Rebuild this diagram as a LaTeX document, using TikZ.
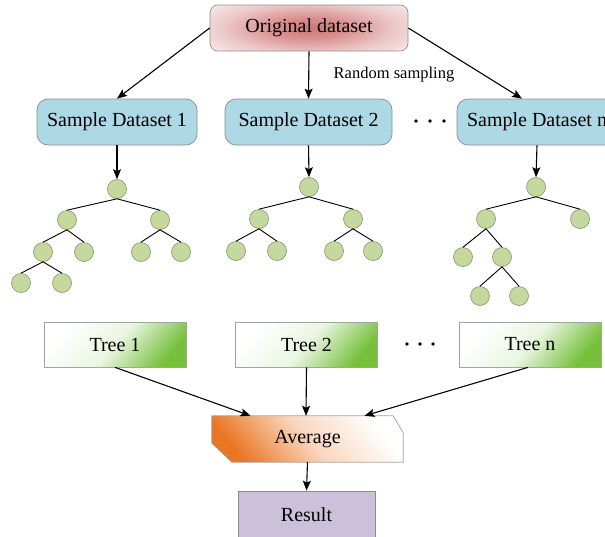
\documentclass[tikz,border=0pt]{standalone}
\usepackage{fontspec}
\setmainfont{Liberation Serif}
\usetikzlibrary{arrows.meta,calc}

\definecolor{leafgreen}{RGB}{197,217,158}
\definecolor{leafedge}{RGB}{128,148,108}
\definecolor{sampleblue}{RGB}{173,216,230}
\definecolor{treegreen}{RGB}{118,192,58}
\definecolor{avgorange}{RGB}{234,118,36}
\definecolor{resultlilac}{RGB}{204,193,218}
\definecolor{glowred}{RGB}{208,118,118}
\definecolor{boxgray}{RGB}{140,140,140}

% soft reddish glow behind the source label
\pgfdeclareradialshading{origglow}{\pgfpoint{0bp}{0bp}}{%
  color(0bp)=(glowred);
  color(8bp)=(glowred!80!white);
  color(18bp)=(glowred!40!white);
  color(28bp)=(glowred!12!white);
  color(36bp)=(white);
  color(50bp)=(white)}

\begin{document}
\begin{tikzpicture}[x=1pt,y=1pt,
  every node/.style={font=\fontsize{20}{24}\selectfont, inner sep=0pt},
  arr/.style={-{Stealth[length=10pt,width=8pt,inset=2pt]}, line width=1.1pt},
  leaf/.style={circle, minimum size=19pt, fill=leafgreen, draw=leafedge, line width=0.6pt},
  branch/.style={line width=0.9pt},
  origbox/.style={draw=boxgray, fill=white, rounded corners=8pt, minimum width=198pt,
    minimum height=46pt, line width=0.7pt,
    path picture={\shade[shading=origglow]
      (path picture bounding box.center) ellipse (120pt and 34pt);}},
  sample/.style={draw=boxgray, fill=sampleblue, rounded corners=11pt, minimum height=46pt, line width=0.7pt},
  treebox/.style={draw=boxgray!80, minimum width=142pt, minimum height=45pt, line width=0.7pt,
    top color=white, bottom color=treegreen, middle color=treegreen!15!white, shading angle=50},
  avgtext/.style={minimum width=191pt, minimum height=46pt},
  resultbox/.style={draw=boxgray, fill=resultlilac, minimum width=137pt, minimum height=48pt, line width=0.7pt},
  dotmark/.style={circle, fill=black, minimum size=3.6pt}
]
\clip (0,0) rectangle (605,-536);

% top: source data
\node[origbox] (orig) at (309,-28) {Original dataset};
\node[font=\fontsize{16.5}{20}\selectfont] (rs) at (394,-75) {Random sampling};

% bootstrap samples
\node[sample, minimum width=160pt] (s1) at (117,-122) {Sample Dataset 1};
\node[sample, minimum width=167pt] (s2) at (308.5,-122) {Sample Dataset 2};
\node[sample, minimum width=160pt] (sn) at (537,-122) {Sample Dataset n};
\node[dotmark] (p1) at (416,-121) {};
\node[dotmark] (p2) at (430,-121) {};
\node[dotmark] (p3) at (444,-121) {};

\draw[arr] (orig.west) -- (s1.north);
\draw[arr] (orig.south) -- (s2.north);
\draw[arr] (orig.east) -- ([xshift=-15pt]sn.north);

% tree 1
\node[leaf] (r1) at (117,-189) {};
\node[leaf] (a1) at (67,-220) {};
\node[leaf] (b1) at (160,-220) {};
\node[leaf] (c1) at (43,-252) {};
\node[leaf] (d1) at (84,-252) {};
\node[leaf] (e1) at (141,-252) {};
\node[leaf] (f1) at (181,-252) {};
\node[leaf] (g1) at (21,-283) {};
\node[leaf] (h1) at (62,-283) {};
\foreach \u/\v in {r1/a1,r1/b1,a1/c1,a1/d1,b1/e1,b1/f1,c1/g1,c1/h1}
  \draw[branch] (\u.south) -- (\v.north);

% tree 2
\node[leaf] (r2) at (309,-187) {};
\node[leaf] (a2) at (259,-219) {};
\node[leaf] (b2) at (353,-219) {};
\node[leaf] (c2) at (236,-251) {};
\node[leaf] (d2) at (277,-251) {};
\node[leaf] (e2) at (334,-251) {};
\node[leaf] (f2) at (373,-251) {};
\foreach \u/\v in {r2/a2,r2/b2,a2/c2,a2/d2,b2/e2,b2/f2}
  \draw[branch] (\u.south) -- (\v.north);

% tree n
\node[leaf] (r3) at (536,-187) {};
\node[leaf] (a3) at (486,-219) {};
\node[leaf] (b3) at (580,-219) {};
\node[leaf] (c3) at (463,-257) {};
\node[leaf] (d3) at (502,-257) {};
\node[leaf] (e3) at (480,-296) {};
\node[leaf] (f3) at (519,-296) {};
\foreach \u/\v in {r3/a3,r3/b3,a3/c3,a3/d3,d3/e3,d3/f3}
  \draw[branch] (\u.south) -- (\v.north);

\draw[arr] (s1.south) -- (r1.north);
\draw[arr] (s2.south) -- (r2.north);
\draw[arr] (sn.south) -- (r3.north);

% trained trees
\node[treebox] (t1) at (115,-344.5) {Tree 1};
\node[treebox] (t2) at (306.5,-344.5) {Tree 2};
\node[treebox] (tn) at (530,-344.5) {Tree n};
\node[dotmark] (q1) at (407,-344) {};
\node[dotmark] (q2) at (420,-344) {};
\node[dotmark] (q3) at (433,-344) {};

% aggregation
\node[avgtext] (avg) at (307.5,-439) {};
\shade[draw=boxgray!80, line width=0.7pt, top color=white, bottom color=avgorange,
  middle color=avgorange!30!white, shading angle=-50]
  (avg.north west) -- ([xshift=-10pt]avg.north east) -- ([yshift=-17pt]avg.north east)
  -- (avg.south east) -- ([xshift=20pt]avg.south west) -- ([yshift=19pt]avg.south west) -- cycle;
\node (avglabel) at (avg.center) {Average};

\draw[arr] (t1.south) -- ([xshift=-57pt]avg.north);
\draw[arr] (t2.south) -- ([xshift=-1.5pt]avg.north);
\draw[arr] ([xshift=-2pt]tn.south) -- ([xshift=57pt]avg.north);

\node[resultbox] (res) at (306.5,-515) {Result};
\draw[arr] (avg.south) -- (res.north);
\end{tikzpicture}
\end{document}
